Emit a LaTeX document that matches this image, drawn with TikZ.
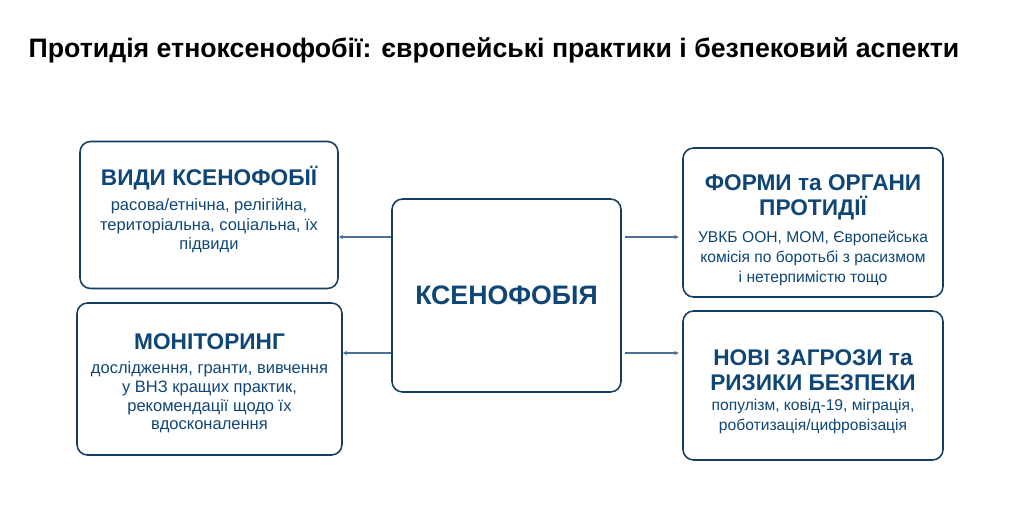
\documentclass[tikz,border=0pt]{standalone}
\usepackage{fontspec}
\setmainfont{Liberation Sans}
\usepackage{tikz}
\usetikzlibrary{arrows.meta}
\definecolor{xen@navy}{RGB}{22, 62, 98}
\definecolor{xen@blue}{RGB}{16, 70, 118}
\definecolor{xen@line}{RGB}{74, 112, 150}
\newcommand{\hd}[1]{{\fontsize{12.9}{14}\selectfont\bfseries\color{xen@blue}#1}}

\begin{document}
\begin{tikzpicture}[
  x=0.02cm, y=-0.02cm,
  box/.style  = {rectangle, rounded corners=6pt, draw=xen@navy, fill=white,
                 line width=0.9pt, inner sep=0pt},
  txt/.style  = {align=center, inner sep=0pt, anchor=north, text=xen@blue,
                 font=\fontsize{9.4}{11}\selectfont},
  rtxt/.style = {txt, font=\fontsize{8.9}{11.4}\selectfont},
  core/.style = {box, text=xen@blue, font=\fontsize{15.2}{18}\selectfont\bfseries},
  ln/.style   = {-{Stealth[length=2.5pt,width=2.5pt]}, xen@line, line width=0.8pt},
]
  \useasboundingbox (0,0) rectangle (1024,520);

  \node[font=\fontsize{15.2}{18}\selectfont\bfseries, anchor=base] (title) at (494,58)
    {Протидія етноксенофобії: європейські практики і безпековий аспекти};

  \node[core, minimum width=229*0.02cm, minimum height=193*0.02cm] (xeno) at (506.5,295.5) {КСЕНОФОБІЯ};

  % boxes
  \node[box, minimum width=258*0.02cm, minimum height=147*0.02cm] (kinds) at (209,215) {};
  \node[box, minimum width=265*0.02cm, minimum height=152*0.02cm] (mon)   at (209.5,379) {};
  \node[box, minimum width=260*0.02cm, minimum height=149*0.02cm] (forms) at (813,222.5) {};
  \node[box, minimum width=260*0.02cm, minimum height=149*0.02cm] (risk)  at (813,385.5) {};

  % box texts
  \node[txt] (kinds-t) at (209,166)
    {\hd{ВИДИ КСЕНОФОБІЇ}\\[3.3pt]расова/етнічна, релігійна,\\територіальна, соціальна, їх\\підвиди};
  \node[txt, font=\fontsize{9.4}{10.6}\selectfont] (mon-t) at (209.5,333)
    {\hd{МОНІТОРИНГ}\\[3.5pt]дослідження, гранти, вивчення\\у ВНЗ кращих практик,\\рекомендації щодо їх\\вдосконалення};
  \node[rtxt] (forms-t) at (813,174.5)
    {\hd{ФОРМИ та ОРГАНИ}\\[3pt]\hd{ПРОТИДІЇ}\\[3.5pt]УВКБ ООН, МОМ, Європейська\\комісія по боротьбі з расизмом\\і нетерпимістю тощо};
  \node[rtxt] (risk-t) at (813,349.5)
    {\hd{НОВІ ЗАГРОЗИ та}\\[3pt]\hd{РИЗИКИ БЕЗПЕКИ}\\[-0.5pt]популізм, ковід-19, міграція,\\роботизація/цифровізація};

  \coordinate (rowa) at (0,237);
  \coordinate (rowb) at (0,353);

  \draw[ln] (xeno.west |- rowa) -- (kinds.east |- rowa);
  \draw[ln] (xeno.west |- rowb) -- (mon.east |- rowb);
  \draw[ln] ([xshift=2pt]xeno.east |- rowa) -- ([xshift=-2pt]forms.west |- rowa);
  \draw[ln] ([xshift=2pt]xeno.east |- rowb) -- ([xshift=-2pt]risk.west |- rowb);
\end{tikzpicture}
\end{document}
